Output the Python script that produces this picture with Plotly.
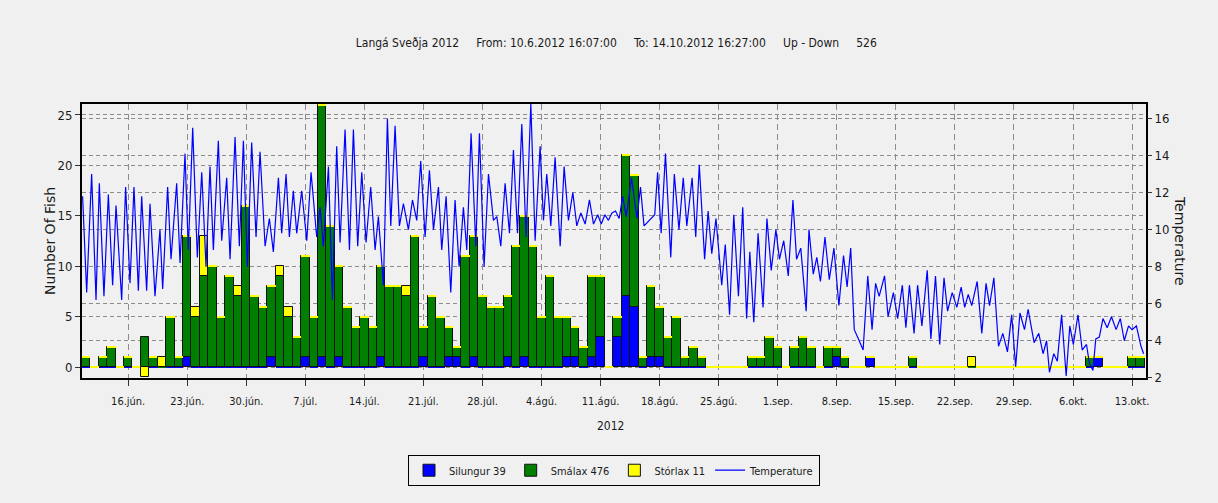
import pandas as pd
import plotly.graph_objects as go

# ---------------- data ----------------
start_day = "2012-06-11"   # first daily bar

silungur = [0, 0, 0, 0, 0, 0, 0,
            0, 0, 0, 0, 0, 1, 0,
            0, 0, 0, 0, 0, 0, 0,
            0, 1, 0, 0, 0, 1, 0,
            1, 0, 1, 0, 0, 0, 0,
            1, 0, 0, 0, 0, 1, 0,
            0, 1, 1, 0, 1, 0, 0,
            0, 1, 0, 1, 0, 0, 0,
            0, 1, 1, 0, 1, 3, 0,
            3, 7, 6, 0, 1, 1, 0,
            0, 0, 0, 0, 0, 0, 0,
            0, 0, 0, 0, 0, 0, 0,
            0, 0, 0, 0, 0, 1, 0,
            0, 0, 1, 0, 0, 0, 0,
            0, 0, 0, 0, 0, 0, 0,
            0, 0, 0, 0, 0, 0, 0,
            0, 0, 0, 0, 0, 0, 0,
            0, 1, 0, 0, 0, 0, 0]

smalax = [1, 0, 1, 2, 0, 1, 0,
          3, 1, 0, 5, 1, 12, 5,
          9, 10, 5, 9, 7, 16, 7,
          6, 7, 9, 5, 3, 10, 5,
          25, 14, 9, 6, 4, 5, 4,
          9, 8, 8, 7, 13, 3, 7,
          5, 3, 1, 11, 12, 7, 6,
          6, 6, 12, 14, 12, 5, 9,
          5, 4, 3, 2, 8, 6, 0,
          2, 14, 13, 1, 7, 5, 3,
          5, 1, 2, 1, 0, 0, 0,
          0, 0, 1, 1, 3, 2, 0,
          2, 3, 2, 0, 2, 1, 1,
          0, 0, 0, 0, 0, 0, 0,
          1, 0, 0, 0, 0, 0, 0,
          0, 0, 0, 0, 0, 0, 0,
          0, 0, 0, 0, 0, 0, 0,
          1, 0, 0, 0, 0, 1, 1]

storlax = [0, 0, 0, 0, 0, 0, 0,
           -1, 0, 1, 0, 0, 0, 1,
           4, 0, 0, 0, 1, 0, 0,
           0, 0, 1, 1, 0, 0, 0,
           0, 0, 0, 0, 0, 0, 0,
           0, 0, 0, 1, 0, 0, 0,
           0, 0, 0, 0, 0, 0, 0,
           0, 0, 0, 0, 0, 0, 0,
           0, 0, 0, 0, 0, 0, 0,
           0, 0, 0, 0, 0, 0, 0,
           0, 0, 0, 0, 0, 0, 0,
           0, 0, 0, 0, 0, 0, 0,
           0, 0, 0, 0, 0, 0, 0,
           0, 0, 0, 0, 0, 0, 0,
           0, 0, 0, 0, 0, 0, 0,
           1, 0, 0, 0, 0, 0, 0,
           0, 0, 0, 0, 0, 0, 0,
           0, 0, 0, 0, 0, 0, 0]

series_names = ["Silungur 39", "Smálax 476", "Stórlax 11", "Temperature"]

# temperature readings: time (days after start_day) and value (°C)
temp_day = [-0.40, 0.08, 0.67, 1.19, 1.58, 2.13, 2.65, 3.16, 3.56, 4.23,
            4.70, 5.22, 5.69, 6.21, 6.60, 7.19, 7.59, 8.18, 8.77, 9.09,
            9.68, 10.08, 10.75, 11.15, 11.74, 12.13, 12.65, 13.20, 13.72, 14.23,
            14.70, 15.10, 15.69, 16.09, 16.68, 17.08, 17.67, 18.18, 18.66, 19.13,
            19.64, 20.16, 20.63, 21.23, 21.74, 22.21, 22.81, 23.20, 23.72, 24.11,
            24.58, 24.98, 25.57, 26.17, 26.68, 27.35, 27.75, 28.14, 28.74, 29.21,
            29.72, 30.12, 30.71, 31.23, 31.70, 32.21, 32.69, 33.20, 33.75, 34.27,
            34.66, 35.26, 35.73, 36.13, 36.64, 37.15, 37.63, 38.22, 38.70, 39.21,
            39.68, 40.20, 40.71, 41.19, 41.78, 42.17, 42.69, 43.24, 43.75, 44.23,
            44.74, 45.14, 45.65, 46.21, 46.64, 47.19, 47.71, 48.30, 48.70, 49.17,
            49.68, 50.20, 50.67, 51.15, 51.66, 52.17, 52.73, 53.24, 53.83, 54.23,
            54.62, 55.10, 55.61, 56.21, 56.68, 57.19, 57.71, 58.18, 58.66, 59.17,
            59.68, 60.16, 60.66, 61.08, 61.51, 61.93, 62.35, 62.77, 63.20, 63.62,
            64.04, 64.67, 65.31, 65.73, 66.15, 67.42, 67.76, 68.18, 68.69, 69.32,
            69.74, 70.29, 70.80, 71.22, 71.85, 72.28, 72.70, 73.33, 73.75, 74.18,
            74.68, 75.36, 75.78, 76.29, 76.79, 77.34, 77.85, 78.31, 78.69, 79.16,
            79.67, 80.26, 80.72, 81.23, 81.78, 82.20, 82.71, 83.25, 83.80, 84.23,
            84.73, 85.37, 85.70, 86.21, 86.63, 87.06, 87.60, 88.11, 88.66, 89.25,
            89.80, 90.22, 90.65, 91.07, 91.57, 92.12, 92.67, 93.18, 93.60, 94.02,
            94.66, 95.08, 95.71, 96.22, 96.77, 97.19, 97.61, 98.16, 98.58, 99.09,
            99.72, 100.15, 100.70, 101.20, 101.71, 102.13, 102.68, 103.23, 103.74, 104.16,
            104.58, 105.00, 105.64, 106.19, 106.69, 107.11, 107.62, 108.17, 108.68, 109.23,
            109.73, 110.20, 110.71, 111.25, 111.68, 112.39, 112.94, 113.45, 113.87, 114.21,
            114.72, 115.14, 115.65, 116.19, 116.62, 117.04, 117.59, 118.09, 118.60, 118.94,
            119.36, 119.70, 120.12, 120.55, 121.05, 121.56, 122.11, 122.61, 123.08, 123.58,
            124.00, 124.51, 125.06, 125.37]

temp_val = [11.8, 6.6, 13.0, 6.2, 12.5, 6.4, 11.9, 7.0, 11.3, 6.2,
            12.3, 7.1, 12.3, 6.7, 11.8, 6.7, 11.4, 6.4, 10.0, 6.8,
            12.3, 8.4, 12.5, 8.2, 14.1, 8.9, 15.5, 8.5, 13.1, 8.0,
            13.4, 8.9, 14.8, 9.4, 12.8, 8.4, 15.0, 9.1, 14.8, 8.0,
            14.7, 9.6, 14.2, 9.1, 10.6, 8.8, 12.8, 9.8, 13.0, 9.6,
            12.1, 9.8, 12.1, 9.4, 13.1, 9.6, 11.2, 9.1, 13.4, 6.2,
            14.5, 9.3, 15.4, 8.9, 15.4, 9.1, 13.1, 9.3, 12.3, 8.9,
            10.7, 7.0, 16.0, 10.2, 15.6, 10.2, 11.4, 10.0, 11.6, 10.5,
            13.7, 9.6, 13.2, 10.0, 12.3, 8.9, 11.8, 6.6, 11.6, 8.0,
            11.2, 8.9, 15.2, 9.1, 15.2, 8.0, 13.0, 10.5, 10.7, 9.1,
            12.5, 9.8, 14.3, 9.8, 15.7, 9.6, 16.8, 9.4, 14.5, 10.5,
            13.0, 10.2, 13.9, 9.1, 13.4, 10.5, 12.0, 10.2, 10.9, 10.3,
            11.6, 10.3, 10.8, 10.3, 10.8, 10.5, 10.9, 11.0, 10.6, 11.8,
            10.7, 12.8, 10.6, 12.3, 10.2, 10.8, 13.1, 9.8, 14.1, 8.5,
            13.0, 10.0, 12.8, 10.2, 12.8, 9.6, 13.5, 8.4, 11.0, 8.7,
            10.6, 7.0, 9.2, 5.4, 10.8, 6.4, 11.2, 5.2, 8.8, 5.0,
            9.8, 5.8, 10.6, 7.8, 10.0, 8.4, 9.4, 7.5, 11.6, 8.4,
            9.0, 5.6, 10.0, 7.6, 8.5, 7.2, 9.6, 7.3, 9.0, 5.9,
            8.6, 6.9, 9.0, 4.6, 4.1, 3.5, 7.5, 4.6, 7.1, 6.4,
            7.5, 5.3, 6.6, 5.2, 7.0, 4.7, 7.0, 4.4, 7.0, 4.8,
            7.8, 4.1, 7.5, 3.8, 7.4, 5.6, 6.6, 5.8, 6.9, 5.8,
            6.5, 5.9, 7.2, 4.4, 7.1, 5.9, 7.4, 3.7, 4.4, 3.4,
            5.4, 2.6, 5.5, 4.6, 5.7, 3.9, 4.4, 3.3, 4.0, 2.3,
            3.3, 2.9, 5.4, 2.1, 4.8, 3.8, 5.4, 3.5, 3.8, 2.8,
            2.4, 4.1, 4.2, 5.2, 4.7, 5.3, 4.6, 5.2, 4.0, 4.8,
            4.6, 4.8, 3.7, 3.3]

tick_dates = ["2012-06-16", "2012-06-23", "2012-06-30", "2012-07-07", "2012-07-14",
              "2012-07-21", "2012-07-28", "2012-08-04", "2012-08-11", "2012-08-18",
              "2012-08-25", "2012-09-01", "2012-09-08", "2012-09-15", "2012-09-22",
              "2012-09-29", "2012-10-06", "2012-10-13"]
tick_labels = ["16.jún.", "23.jún.", "30.jún.", "7.júl.", "14.júl.", "21.júl.",
               "28.júl.", "4.ágú.", "11.ágú.", "18.ágú.", "25.ágú.", "1.sep.",
               "8.sep.", "15.sep.", "22.sep.", "29.sep.", "6.okt.", "13.okt."]

title_parts = ["Langá Sveðja 2012", "From: 10.6.2012 16:07:00",
               "To: 14.10.2012 16:27:00", "Up - Down", "526"]
year_label = "2012"
x_range = ["2012-06-10 12:40", "2012-10-14 15:40"]

# ---------------- figure ----------------
days = pd.date_range(start_day, periods=len(smalax), freq="D")
temp_time = pd.Timestamp(start_day) + pd.to_timedelta(temp_day, unit="D")

BLUE, GREEN, YELLOW = "#0000FF", "#007F00", "#FFFF00"
FONT = "Liberation Sans Narrow, DejaVu Sans Condensed, Arial Narrow, sans-serif"
BG = "#F0F0F0"
DAY_MS = 86400000

fig = go.Figure()
for k, (name, vals, col) in enumerate([(series_names[0], silungur, BLUE),
                                       (series_names[1], smalax, GREEN),
                                       (series_names[2], storlax, YELLOW)]):
    # empty days are drawn as a thin line in the series colour (as in the original tool)
    line_cols = [col if v == 0 else "#111111" for v in vals]
    line_w = [2 if v == 0 else 1 for v in vals]
    fig.add_trace(go.Bar(
        x=days, y=vals, name=name, width=DAY_MS, legendgroup=f"g{k}", showlegend=False,
        marker=dict(color=col, line=dict(color=line_cols, width=line_w)),
        yaxis="y"))
    # legend entry with the black-outlined swatch
    fig.add_trace(go.Bar(
        x=[None], y=[None], name=name, legendgroup=f"g{k}", showlegend=True,
        marker=dict(color=col, line=dict(color="#111111", width=1)),
        yaxis="y"))

fig.add_trace(go.Scatter(
    x=temp_time, y=temp_val, name=series_names[3], mode="lines",
    line=dict(color=BLUE, width=1.2), yaxis="y2"))

title_text = ("\u00a0" * 5).join(title_parts)

fig.update_layout(
    width=1218, height=503,
    paper_bgcolor=BG, plot_bgcolor=BG,
    margin=dict(l=82, r=72, t=104, b=125),
    barmode="relative", bargap=0,
    font=dict(family=FONT, size=12, color="#1a1a1a"),
    title=dict(text=title_text, x=0.506, xanchor="center", y=0.915, yanchor="middle",
               font=dict(family=FONT, size=12, color="#1a1a1a")),
    xaxis=dict(
        type="date", range=x_range,
        tickmode="array", tickvals=tick_dates, ticktext=tick_labels,
        ticks="outside", ticklen=6, tickcolor="#333", ticklabelstandoff=6,
        showgrid=True, gridcolor="#8c8c8c", griddash="6px,4px", gridwidth=1,
        showline=True, linecolor="black", linewidth=2, mirror=True,
        zeroline=False, tickfont=dict(size=11)),
    yaxis=dict(
        range=[-1.09, 26.09], tickvals=[0, 5, 10, 15, 20, 25],
        ticks="outside", ticklen=5, tickcolor="#333",
        showgrid=True, gridcolor="#8c8c8c", griddash="4px,3px", gridwidth=1,
        showline=True, linecolor="black", linewidth=2, mirror=True,
        zeroline=False, tickfont=dict(size=13)),
    yaxis2=dict(
        overlaying="y", side="right", range=[1.99, 16.78],
        tickvals=[2, 4, 6, 8, 10, 12, 14, 16],
        ticks="outside", ticklen=5, tickcolor="#333",
        showgrid=True, gridcolor="#8c8c8c", griddash="4px,3px", gridwidth=1,
        showline=False, zeroline=False, tickfont=dict(size=13)),
    legend=dict(orientation="h", x=0.5, xanchor="center", y=-0.28, yanchor="top",
                bgcolor=BG, bordercolor="black", borderwidth=1,
                font=dict(family=FONT, size=11), traceorder="normal"),
    annotations=[
        dict(text="Number Of Fish", xref="paper", yref="paper", x=-0.030, y=0.50,
             textangle=-90, showarrow=False, xanchor="center", yanchor="middle",
             font=dict(family="DejaVu Sans, sans-serif", size=14, color="#1a1a1a")),
        dict(text="Temperature", xref="paper", yref="paper", x=1.032, y=0.50,
             textangle=90, showarrow=False, xanchor="center", yanchor="middle",
             font=dict(family="DejaVu Sans, sans-serif", size=14, color="#1a1a1a")),
        dict(text=year_label, xref="paper", yref="paper", x=0.497, y=-0.175,
             showarrow=False, xanchor="center", yanchor="middle",
             font=dict(family=FONT, size=12, color="#1a1a1a")),
    ],
)

fig.write_html("out.html", config={"displayModeBar": False},
               post_script="document.body.style.margin='0';document.body.style.overflow='hidden';")
